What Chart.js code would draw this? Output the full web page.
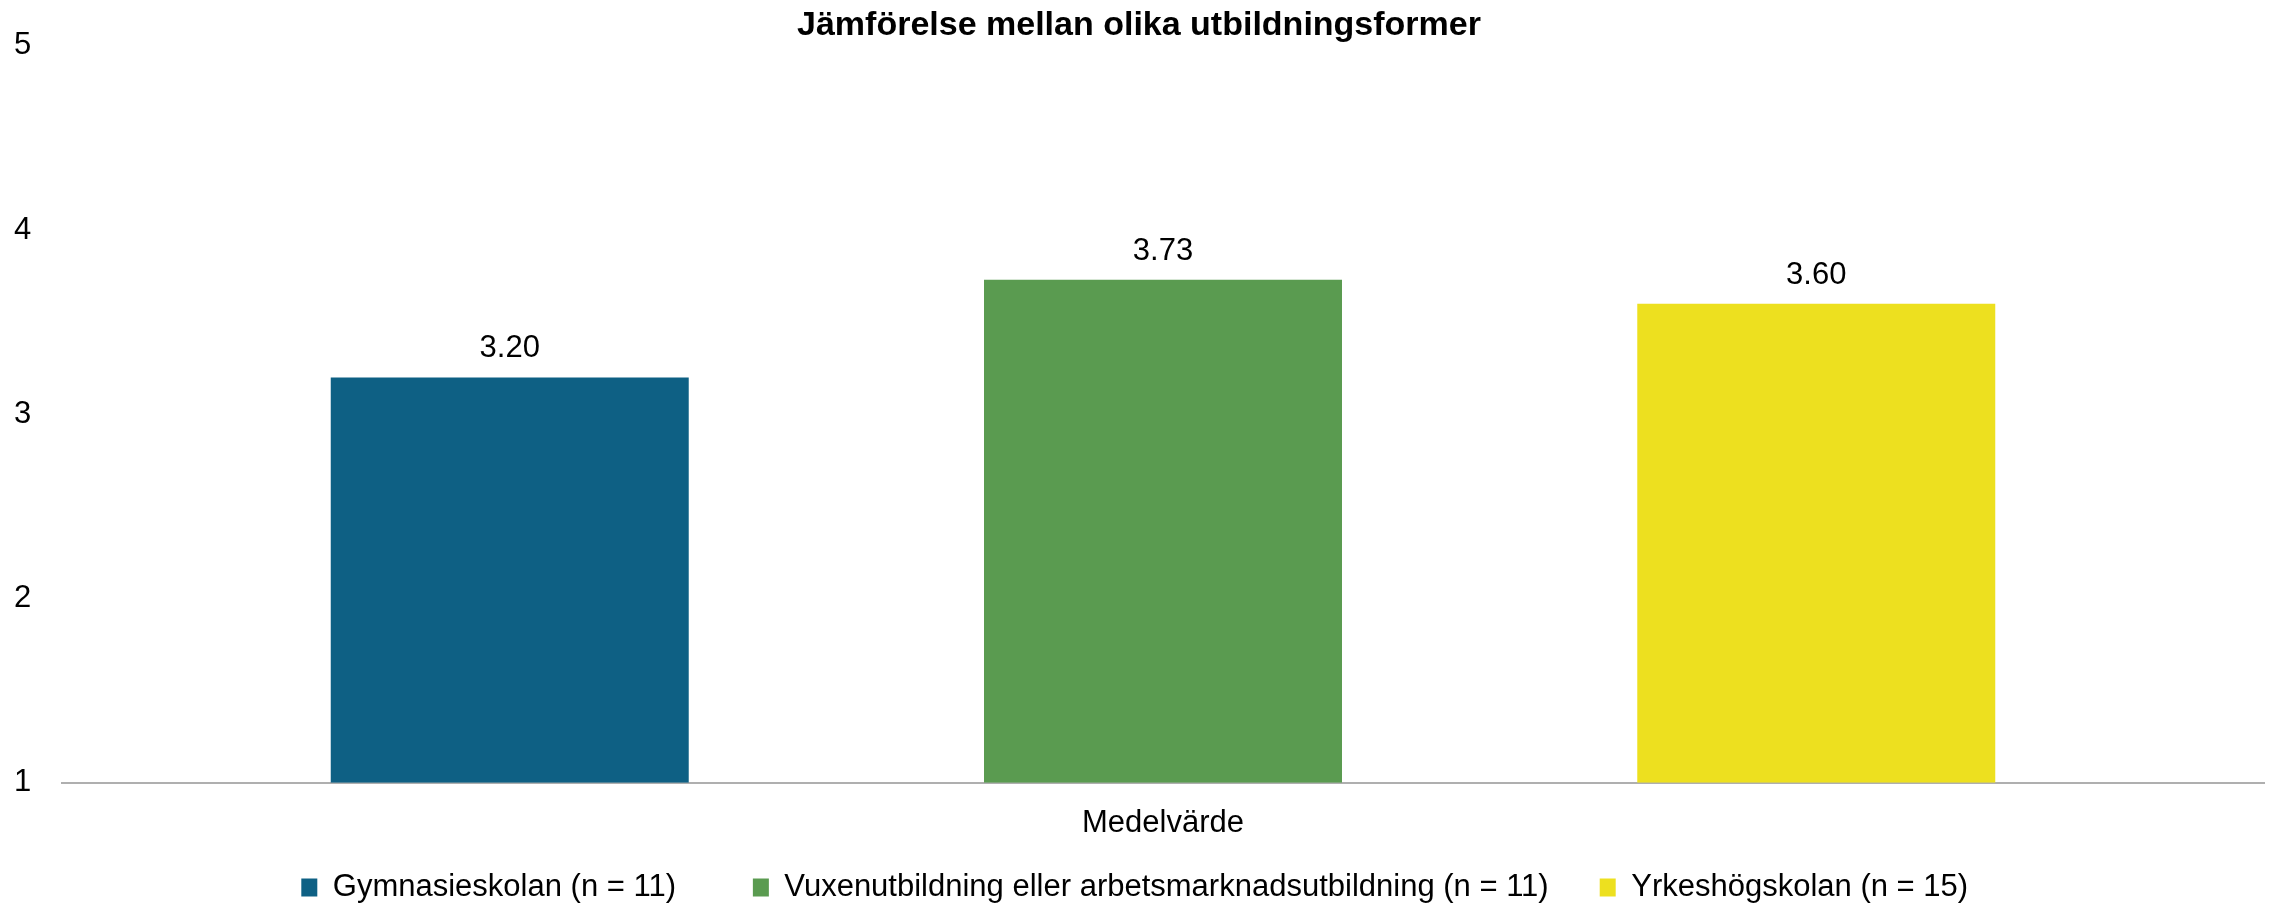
<!DOCTYPE html>
<html>
<head>
<meta charset="utf-8">
<script src="https://cdn.jsdelivr.net/npm/chart.js@4"></script>
<style>
  html, body { margin: 0; padding: 0; background: #fff; }
  #wrap { width: 2272px; height: 903px; }
</style>
</head>
<body>
<div id="wrap"><canvas id="chart"></canvas></div>
<script>
const categories = ["Medelvärde"];
const seriesNames = [
  "Gymnasieskolan (n = 11)",
  "Vuxenutbildning eller arbetsmarknadsutbildning (n = 11)",
  "Yrkeshögskolan (n = 15)"
];
const seriesValues = [3.20, 3.73, 3.60];
const seriesColors = ["#0E6084", "#5A9B50", "#EDE01F"];
const yTicks = [1, 2, 3, 4, 5];
// extra spaces after each legend text, to mimic the spacing of the original legend
const legendGaps = [8, 5, 1];

const FONT = "'Liberation Sans', Arial, sans-serif";

// draws the value above each bar
const valueLabels = {
  id: "valueLabels",
  afterDatasetsDraw(chart) {
    const ctx = chart.ctx;
    ctx.save();
    ctx.font = "31px " + FONT;
    ctx.fillStyle = "#000";
    ctx.textAlign = "center";
    ctx.textBaseline = "alphabetic";
    chart.data.datasets.forEach((ds, i) => {
      const meta = chart.getDatasetMeta(i);
      meta.data.forEach((bar, j) => {
        ctx.fillText(ds.data[j].toFixed(2), bar.x, bar.y - 20);
      });
    });
    ctx.restore();
  }
};

const datasets = seriesNames.map((name, i) => ({
  label: name,
  data: [seriesValues[i]],
  backgroundColor: seriesColors[i],
  borderWidth: 0,
  base: yTicks[0]
}));

new Chart(document.getElementById("chart"), {
  type: "bar",
  data: { labels: categories, datasets },
  plugins: [valueLabels],
  options: {
    responsive: true,
    maintainAspectRatio: false,
    animation: false,
    categoryPercentage: 0.89,
    barPercentage: 0.548,
    layout: { padding: { left: 14, right: 8, top: 0, bottom: -10 } },
    scales: {
      x: {
        grid: { display: false, drawTicks: false },
        border: { display: true, color: "#AFAFAF", width: 2 },
        ticks: { color: "#000", font: { family: FONT, size: 31 }, padding: 22 }
      },
      y: {
        min: yTicks[0],
        max: yTicks[yTicks.length - 1],
        grid: { display: false, drawTicks: false },
        border: { display: false },
        afterFit: (s) => { s.width = 48; },
        ticks: {
          stepSize: 1,
          color: "#000",
          font: { family: FONT, size: 31 },
          padding: 0,
          crossAlign: "far"
        }
      }
    },
    plugins: {
      tooltip: { enabled: false },
      title: {
        display: true,
        text: "Jämförelse mellan olika utbildningsformer",
        color: "#000",
        font: { family: FONT, size: 34, weight: "bold" },
        padding: { top: 5, bottom: 0 }
      },
      legend: {
        display: true,
        position: "bottom",
        labels: {
          color: "#000",
          font: { family: FONT, size: 31 },
          boxWidth: 16,
          boxHeight: 18,
          padding: 8,
          generateLabels: (chart) => {
            const items = Chart.defaults.plugins.legend.labels.generateLabels(chart);
            items.forEach((it, i) => {
              it.lineWidth = 0;
              it.text = it.text + " ".repeat(legendGaps[i]);
            });
            return items;
          }
        }
      }
    }
  }
});
</script>
</body>
</html>
